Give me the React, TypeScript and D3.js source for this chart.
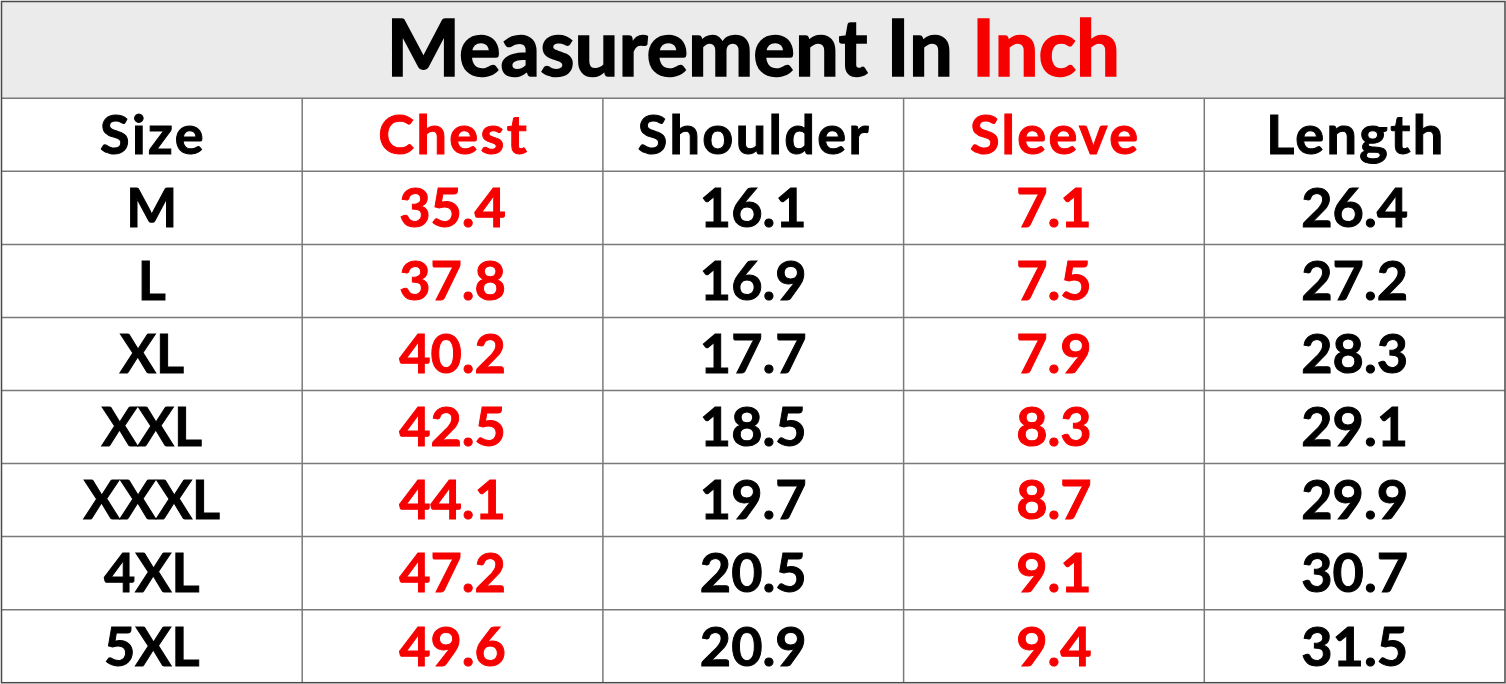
import React from "react";
import * as d3 from "d3";

const sizes = ["M", "L", "XL", "XXL", "XXXL", "4XL", "5XL"];
const chest = ["35.4", "37.8", "40.2", "42.5", "44.1", "47.2", "49.6"];
const shoulder = ["16.1", "16.9", "17.7", "18.5", "19.7", "20.5", "20.9"];
const sleeve = ["7.1", "7.5", "7.9", "8.3", "8.7", "9.1", "9.4"];
const lengthVals = ["26.4", "27.2", "28.3", "29.1", "29.9", "30.7", "31.5"];
const headers = ["Size", "Chest", "Shoulder", "Sleeve", "Length"];
const redColumns = [1, 3];

const W = 1506;
const H = 684;
const RED = "#f70000";
const FONT = "Lato, 'Open Sans', sans-serif";

export default function App() {
  const columns = [sizes, chest, shoulder, sleeve, lengthVals];
  const x = d3.scaleBand<number>().domain(d3.range(headers.length)).range([1.5, 1505]);
  const rowKeys = ["header", ...sizes];
  const y = d3.scaleBand<string>().domain(rowKeys).range([98.3, 682.7]);
  const titleTop = 1.5;
  const titleBottom = y.range()[0];

  const cellFontSize = 54;
  const capShift = cellFontSize * 0.358;

  return (
    <svg width={W} height={H} style={{ position: "absolute", left: 0, top: 0, background: "#fff" }}>
      <rect x={1.5} y={titleTop} width={1503.5} height={titleBottom - titleTop} fill="#ebebeb" />
      <text
        x={(1.5 + 1505) / 2}
        y={76}
        textAnchor="middle"
        fontFamily={FONT}
        fontWeight={700}
        fontSize={78}
        fill="#000"
        stroke="#000"
        strokeWidth={1.6}
      >
        Measurement In <tspan fill={RED} stroke={RED}>Inch</tspan>
      </text>
      {/* grid lines */}
      {rowKeys.map((k) => (
        <line key={"h" + k} x1={1.5} x2={1505} y1={y(k)!} y2={y(k)!} stroke="#7a7a7a" strokeWidth={1.5} />
      ))}
      {d3.range(1, headers.length).map((i) => (
        <line key={"v" + i} x1={x(i)!} x2={x(i)!} y1={titleBottom} y2={682.7} stroke="#7a7a7a" strokeWidth={1.5} />
      ))}
      <rect x={1.5} y={1.5} width={1503.5} height={681.2} fill="none" stroke="#4a4a4a" strokeWidth={1.5} />
      {headers.map((h, i) => {
        const c = redColumns.includes(i) ? RED : "#000";
        return (
          <text
            key={"hd" + i}
            x={x(i)! + x.bandwidth() / 2 + 1.2}
            y={y("header")! + y.bandwidth() / 2 + capShift}
            textAnchor="middle"
            fontFamily={FONT}
            fontWeight={700}
            fontSize={cellFontSize}
            letterSpacing={2.4}
            fill={c}
            stroke={c}
            strokeWidth={1}
          >
            {h}
          </text>
        );
      })}
      {columns.map((col, i) =>
        col.map((v, r) => {
          const c = redColumns.includes(i) ? RED : "#000";
          return (
            <text
              key={"c" + i + "-" + r}
              x={x(i)! + x.bandwidth() / 2}
              y={y(sizes[r])! + y.bandwidth() / 2 + capShift}
              textAnchor="middle"
              fontFamily={FONT}
              fontWeight={700}
              fontSize={cellFontSize}
              fill={c}
              stroke={c}
              strokeWidth={1}
            >
              {v}
            </text>
          );
        })
      )}
    </svg>
  );
}
